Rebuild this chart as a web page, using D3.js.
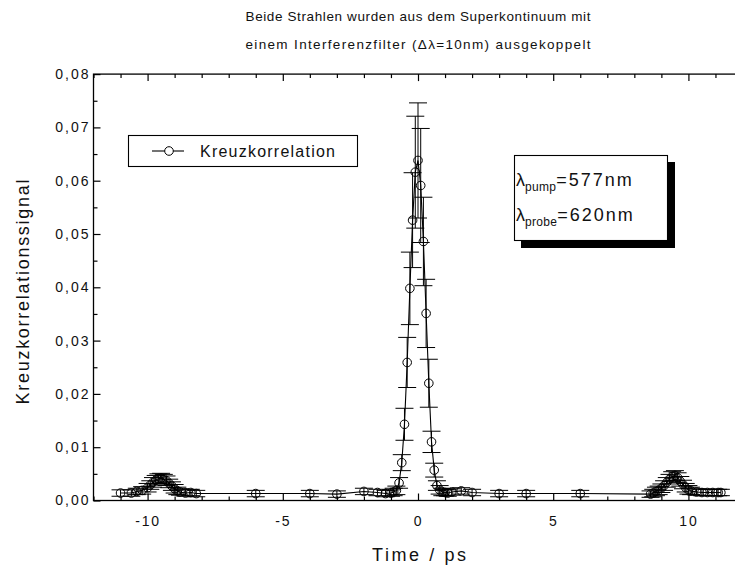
<!DOCTYPE html>
<html>
<head>
<meta charset="utf-8">
<script src="https://cdn.jsdelivr.net/npm/d3@7"></script>
<style>
  body { margin: 0; background: #fff; }
  svg { display: block; font-family: "Liberation Sans", Arial, sans-serif; }
</style>
</head>
<body>
<svg id="chart" width="735" height="570"></svg>
<script>
// Cross-correlation measurement: delay time (ps), signal and its uncertainty
const timePs = [
  -11.0, -10.6, -10.4, -10.2, -10.0, -9.9, -9.8, -9.7, -9.6, -9.5, -9.4, -9.3, -9.2, -9.1, -9.0, -8.9, -8.8, -8.6, -8.4, -8.2,
  -6.0, -4.0, -3.0, -2.0, -1.5, -1.2,
  -1.0, -0.9, -0.8, -0.7, -0.6, -0.5, -0.4, -0.3, -0.2, -0.1, 0.0, 0.1, 0.2, 0.3, 0.4, 0.5, 0.6, 0.7, 0.8, 0.9, 1.0, 1.1,
  1.25, 1.6, 2.0, 3.0, 4.0, 6.0,
  8.6, 8.7, 8.8, 8.9, 9.0, 9.1, 9.2, 9.3, 9.4, 9.5, 9.6, 9.7, 9.8, 9.9, 10.0, 10.1, 10.3, 10.5, 10.7, 10.9, 11.1, 11.2
];
const signal = [
  0.0014, 0.0014, 0.0017, 0.0019, 0.0024, 0.0029, 0.0034, 0.0038, 0.0041, 0.0042, 0.0040, 0.0037, 0.0032, 0.0027, 0.0022, 0.0018, 0.0016, 0.0014, 0.0015, 0.0013,
  0.0013, 0.0013, 0.0012, 0.0017, 0.0015, 0.0013,
  0.0014, 0.0016, 0.0019, 0.0033, 0.0071, 0.0143, 0.0259, 0.0398, 0.0526, 0.0616, 0.0638, 0.0591, 0.0486, 0.0351, 0.0220, 0.0110, 0.0057, 0.0028, 0.0020, 0.0016, 0.0015, 0.0014,
  0.0016, 0.0018, 0.0015, 0.0013, 0.0013, 0.0013,
  0.0012, 0.0014, 0.0017, 0.0019, 0.0023, 0.0028, 0.0034, 0.0040, 0.0045, 0.0047, 0.0043, 0.0036, 0.0030, 0.0024, 0.0020, 0.0018, 0.0016, 0.0015, 0.0015, 0.0015, 0.0015, 0.0015
];
const signalErr = [
  0.0006, 0.0006, 0.0006, 0.0007, 0.0008, 0.0008, 0.0009, 0.0009, 0.0009, 0.0009, 0.0009, 0.0009, 0.0008, 0.0008, 0.0008, 0.0007, 0.0006, 0.0006, 0.0006, 0.0006,
  0.0006, 0.0006, 0.0006, 0.0006, 0.0006, 0.0006,
  0.0006, 0.0007, 0.0008, 0.0010, 0.0015, 0.0030, 0.0047, 0.0068, 0.0089, 0.0105, 0.0108, 0.0107, 0.0083, 0.0064, 0.0045, 0.0020, 0.0013, 0.0009, 0.0008, 0.0007, 0.0006, 0.0006,
  0.0006, 0.0006, 0.0006, 0.0006, 0.0006, 0.0006,
  0.0006, 0.0007, 0.0008, 0.0008, 0.0008, 0.0009, 0.0009, 0.0009, 0.0009, 0.0009, 0.0009, 0.0009, 0.0008, 0.0008, 0.0008, 0.0007, 0.0006, 0.0006, 0.0006, 0.0006, 0.0006, 0.0006
];

// Axis ticks and texts
const xMajorTicks = [-10, -5, 0, 5, 10];
const xMinorTicks = [-12, -11, -9, -8, -7, -6, -4, -3, -2, -1, 1, 2, 3, 4, 6, 7, 8, 9, 11, 12];
const yMajorTicks = [0, 0.01, 0.02, 0.03, 0.04, 0.05, 0.06, 0.07, 0.08];
const yMinorTicks = [0.005, 0.015, 0.025, 0.035, 0.045, 0.055, 0.065, 0.075];
const titleLines = [
  "Beide Strahlen wurden aus dem Superkontinuum mit",
  "einem Interferenzfilter (\u0394\u03bb=10nm) ausgekoppelt"
];
const xTitle = "Time / ps";
const yTitle = "Kreuzkorrelationssignal";
const legendLabel = "Kreuzkorrelation";
const pumpNm = 577;
const probeNm = 620;

const svg = d3.select("#chart");
const plot = { left: 93.5, right: 742.5, top: 74.1, bottom: 500.5 };

const x = d3.scaleLinear().domain([-12, 12]).range([plot.left, plot.right]);
const y = d3.scaleLinear().domain([0, 0.08]).range([plot.bottom, plot.top]);

const deLocale = d3.formatLocale({ decimal: ",", thousands: ".", grouping: [3], currency: ["", " €"] });
const yFmt = deLocale.format(".2f");

// Frame
svg.append("rect")
  .attr("x", plot.left).attr("y", plot.top)
  .attr("width", plot.right - plot.left).attr("height", plot.bottom - plot.top)
  .attr("fill", "none").attr("stroke", "#000").attr("stroke-width", 1.3);

function styleAxis(g) {
  g.select(".domain").remove();
  g.selectAll(".tick line").attr("stroke", "#000").attr("stroke-width", 1.2);
}

// Bottom axis (inward ticks)
svg.append("g").attr("transform", `translate(0,${plot.bottom})`)
  .call(d3.axisBottom(x).tickValues(xMajorTicks).tickSize(-7).tickPadding(16).tickFormat(d3.format("d")))
  .call(styleAxis)
  .call(g => g.selectAll(".tick text")
    .attr("font-size", 14).attr("fill", "#111").attr("letter-spacing", "1.8px")
    .attr("font-family", "Liberation Sans, Arial, sans-serif")
    .text(d => (d < 0 ? "-" : "") + Math.abs(d)));
svg.append("g").attr("transform", `translate(0,${plot.bottom})`)
  .call(d3.axisBottom(x).tickValues(xMinorTicks).tickSize(-4).tickFormat(""))
  .call(styleAxis);

// Top axis
svg.append("g").attr("transform", `translate(0,${plot.top})`)
  .call(d3.axisTop(x).tickValues(xMajorTicks).tickSize(-7).tickFormat(""))
  .call(styleAxis);
svg.append("g").attr("transform", `translate(0,${plot.top})`)
  .call(d3.axisTop(x).tickValues(xMinorTicks).tickSize(-4).tickFormat(""))
  .call(styleAxis);

// Left axis
svg.append("g").attr("transform", `translate(${plot.left},0)`)
  .call(d3.axisLeft(y).tickValues(yMajorTicks).tickSize(-7).tickPadding(3).tickFormat(yFmt))
  .call(styleAxis)
  .call(g => g.selectAll(".tick text")
    .attr("font-size", 14).attr("fill", "#111").attr("letter-spacing", "2px")
    .attr("font-family", "Liberation Sans, Arial, sans-serif"));
svg.append("g").attr("transform", `translate(${plot.left},0)`)
  .call(d3.axisLeft(y).tickValues(yMinorTicks).tickSize(-4).tickFormat(""))
  .call(styleAxis);

// Right axis
svg.append("g").attr("transform", `translate(${plot.right},0)`)
  .call(d3.axisRight(y).tickValues(yMajorTicks).tickSize(-7).tickFormat(""))
  .call(styleAxis);
svg.append("g").attr("transform", `translate(${plot.right},0)`)
  .call(d3.axisRight(y).tickValues(yMinorTicks).tickSize(-4).tickFormat(""))
  .call(styleAxis);

// Data
const points = timePs.map((t, i) => ({ t, v: signal[i], e: signalErr[i] }));
const capHalf = 9;

// Connecting line
svg.append("path")
  .datum(points)
  .attr("fill", "none").attr("stroke", "#000").attr("stroke-width", 1.1)
  .attr("d", d3.line().x(d => x(d.t)).y(d => y(d.v)));

// Error bars
const eb = svg.append("g").attr("stroke", "#000").attr("stroke-width", 1);
const ebG = eb.selectAll("g").data(points).join("g");
ebG.append("line")
  .attr("x1", d => x(d.t)).attr("x2", d => x(d.t))
  .attr("y1", d => y(d.v - d.e)).attr("y2", d => y(d.v + d.e));
ebG.append("line")
  .attr("x1", d => x(d.t) - capHalf).attr("x2", d => x(d.t) + capHalf)
  .attr("y1", d => y(d.v + d.e)).attr("y2", d => y(d.v + d.e));
ebG.append("line")
  .attr("x1", d => x(d.t) - capHalf).attr("x2", d => x(d.t) + capHalf)
  .attr("y1", d => y(d.v - d.e)).attr("y2", d => y(d.v - d.e));

// Open-circle symbols
svg.append("g").selectAll("circle").data(points).join("circle")
  .attr("cx", d => x(d.t)).attr("cy", d => y(d.v)).attr("r", 4.3)
  .attr("fill", "none").attr("stroke", "#000").attr("stroke-width", 1);

// Title
svg.append("g").selectAll("text").data(titleLines).join("text")
  .attr("x", 418).attr("y", (d, i) => 21 + i * 28)
  .attr("text-anchor", "middle").attr("font-size", 13.5).attr("fill", "#111")
  .attr("textLength", 345).attr("lengthAdjust", "spacing")
  .text(d => d);

// Axis titles
svg.append("text")
  .attr("x", 419).attr("y", 561)
  .attr("text-anchor", "middle").attr("font-size", 18).attr("fill", "#111")
  .attr("textLength", 94).attr("lengthAdjust", "spacing")
  .text(xTitle);
svg.append("text")
  .attr("transform", "translate(29,292) rotate(-90)")
  .attr("text-anchor", "middle").attr("font-size", 18).attr("fill", "#111")
  .attr("textLength", 225).attr("lengthAdjust", "spacing")
  .text(yTitle);

// Legend
const leg = svg.append("g");
leg.append("rect").attr("x", 128.5).attr("y", 135.5).attr("width", 229).attr("height", 31)
  .attr("fill", "#fff").attr("stroke", "#000").attr("stroke-width", 1.1);
leg.append("line").attr("x1", 152).attr("x2", 184).attr("y1", 151).attr("y2", 151)
  .attr("stroke", "#000").attr("stroke-width", 1.1);
leg.append("circle").attr("cx", 169).attr("cy", 151).attr("r", 4.3)
  .attr("fill", "#fff").attr("stroke", "#000");
leg.append("text").attr("x", 200).attr("y", 157).attr("font-size", 16).attr("fill", "#111")
  .attr("textLength", 135).attr("lengthAdjust", "spacing")
  .text(legendLabel);

// Wavelength box with drop shadow
const wb = svg.append("g");
wb.append("rect").attr("x", 521).attr("y", 162).attr("width", 154).attr("height", 86).attr("fill", "#000");
wb.append("rect").attr("x", 514.5).attr("y", 155.5).attr("width", 153).attr("height", 85)
  .attr("fill", "#fff").attr("stroke", "#000").attr("stroke-width", 1.1);

const wlLines = [
  { sub: "pump", val: pumpNm, y: 186 },
  { sub: "probe", val: probeNm, y: 221 }
];
wlLines.forEach(l => {
  const t = wb.append("text").attr("x", 516).attr("y", l.y).attr("font-size", 18).attr("fill", "#111");
  t.append("tspan").text("\u03bb");
  t.append("tspan").attr("font-size", 12).attr("dy", 5).attr("letter-spacing", "0.3px").text(l.sub);
  t.append("tspan").attr("dy", -5).attr("letter-spacing", "2px").text("=" + l.val + "nm");
});
</script>
</body>
</html>
